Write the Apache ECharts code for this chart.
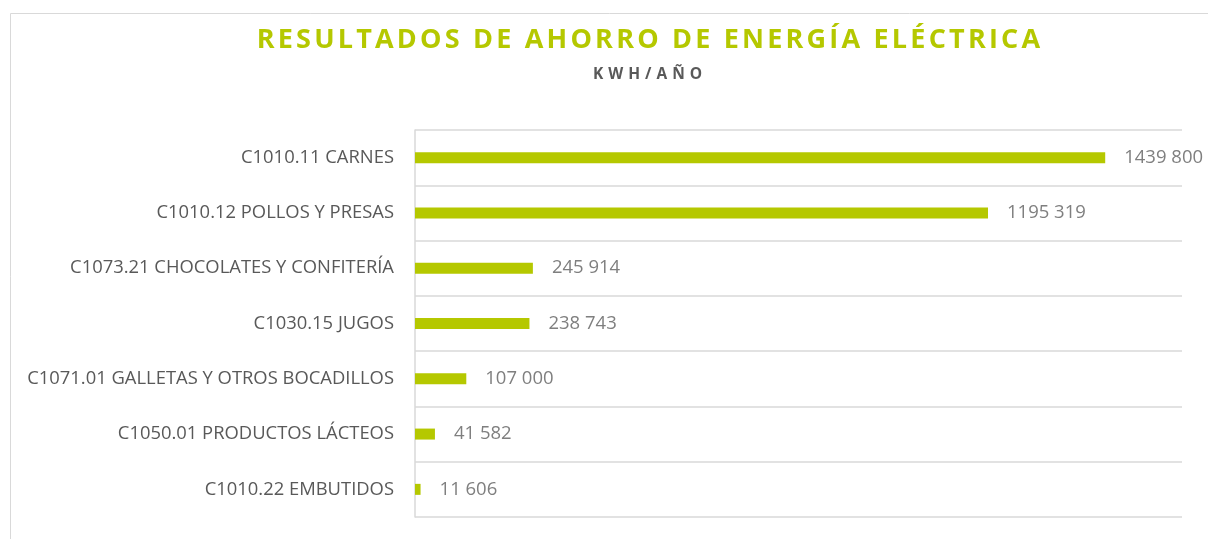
<!DOCTYPE html>
<html><head><meta charset="utf-8">
<script src="https://cdn.jsdelivr.net/npm/echarts@6/dist/echarts.min.js"></script>
<style>
html,body{margin:0;padding:0;background:#fff;}
#wrap{position:relative;width:1208px;height:539px;}
#chart{position:absolute;left:0;top:0;width:1208px;height:539px;}
.t{position:absolute;left:0;width:1300px;text-align:center;font-family:"Open Sans",sans-serif;font-weight:700;white-space:nowrap;}
#title{top:19px;left:0;width:1300px;font-size:27px;letter-spacing:3.2px;color:#B5C800;}
#sub{top:62px;left:0;width:1300px;font-size:15.5px;letter-spacing:5px;color:#595959;}
</style></head>
<body><div id="wrap"><div id="chart"></div>
<div class="t" id="title">RESULTADOS DE AHORRO DE ENERGÍA ELÉCTRICA</div>
<div class="t" id="sub">KWH/AÑO</div></div>
<script>
const categories = ["C1010.11 CARNES","C1010.12 POLLOS Y PRESAS","C1073.21 CHOCOLATES Y CONFITERÍA","C1030.15 JUGOS","C1071.01 GALLETAS Y OTROS BOCADILLOS","C1050.01 PRODUCTOS LÁCTEOS","C1010.22 EMBUTIDOS"];
const values = [1439800,1195319,245914,238743,107000,41582,11606];
const xMax = 1600000;

const fmt = v => { const s = String(v); return s.length > 6 ? s.slice(0, s.length-3) + " " + s.slice(-3) : s.replace(/\B(?=(\d{3})+(?!\d))/g, " "); };

const chart = echarts.init(document.getElementById('chart'), null, {renderer:'canvas'});
chart.setOption({
  animation:false,
  graphic:[{type:'rect',shape:{x:10.5,y:13.5,width:1300,height:700},style:{fill:'none',stroke:'#d9d9d9',lineWidth:1},z:-10}],
  grid:{left:415,right:26,top:130,bottom:22,containLabel:false},
  xAxis:{type:'value',min:0,max:xMax,show:true,axisLabel:{show:false},axisLine:{show:false},axisTick:{show:false},splitLine:{show:false}},
  yAxis:{type:'category',inverse:true,data:categories,
    axisLine:{show:true,lineStyle:{color:'#d9d9d9',width:1.5}},
    axisTick:{show:false},
    splitLine:{show:true,lineStyle:{color:'#d9d9d9',width:1.5}},
    axisLabel:{color:'#595959',fontFamily:'Open Sans',fontSize:18.4,margin:21}},
  series:[{type:'bar',data:values,barWidth:11,itemStyle:{color:'#B5C800'},
    label:{show:true,position:'right',distance:19,color:'#7f7f7f',fontFamily:'Open Sans',fontSize:18.5,formatter:p=>fmt(p.value)}}]
});
</script></body></html>
